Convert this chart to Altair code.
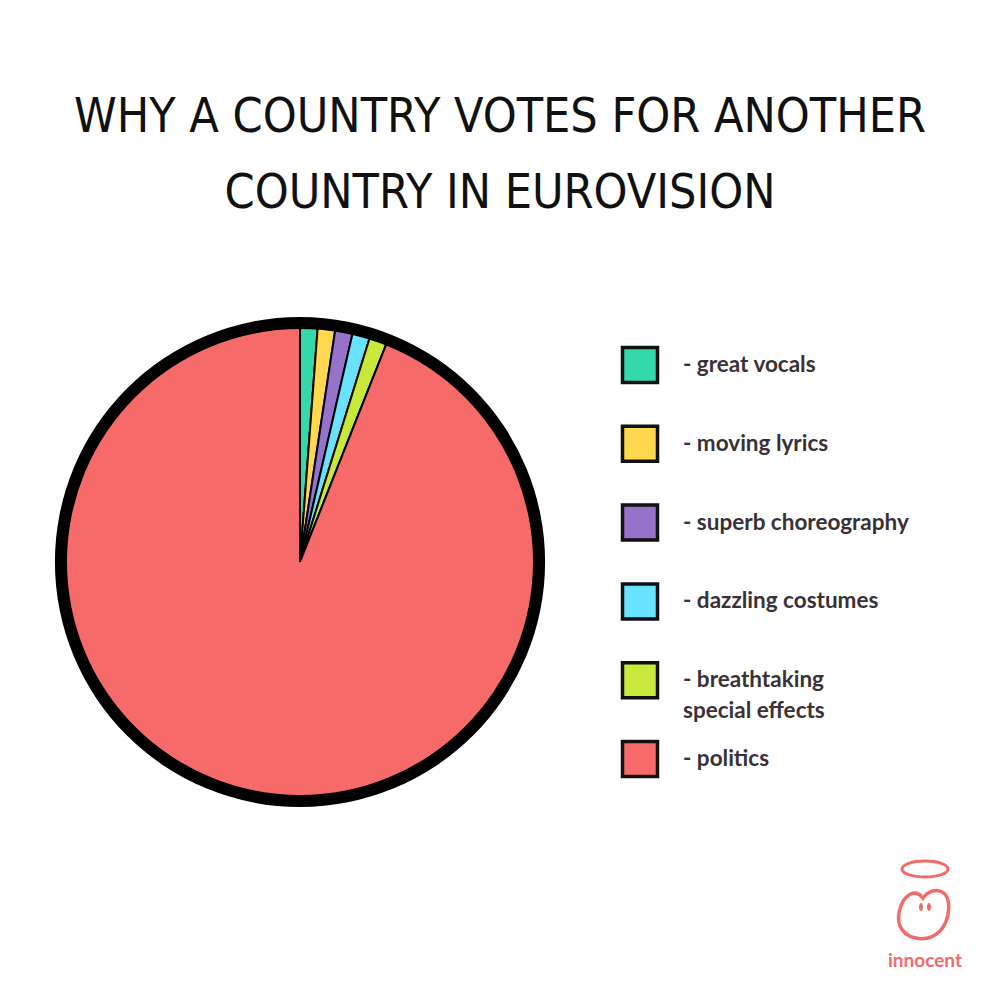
import altair as alt
import pandas as pd

# ---------------- data ----------------
categories = ["great vocals", "moving lyrics", "superb choreography",
              "dazzling costumes", "breathtaking special effects", "politics"]
legend_labels = ["- great vocals", "- moving lyrics", "- superb choreography",
                 "- dazzling costumes", "- breathtaking\n\u2002special effects", "- politics"]
shares = [1.2, 1.2, 1.2, 1.2, 1.2, 94.0]
colors = ["#35D8A8", "#FFD84E", "#9673CB", "#68E2FF", "#C8E83C", "#F76A6A"]
title_lines = ["WHY A COUNTRY VOTES FOR ANOTHER", "COUNTRY IN EUROVISION"]
brand = "innocent"

df = pd.DataFrame({"category": categories, "label": legend_labels,
                   "share": shares, "order": list(range(len(categories)))})
one = pd.DataFrame({"title": ["\n".join(title_lines)], "brand": [brand]})

W = H = 984
CX, CY = 292, 554
R_OUT = 245
RING = 12
LOGO_RED = "#F26B6B"


def ellipse_path(rx, ry):
    k = 0.5523
    return (f"M {rx} 0 C {rx} {k*ry} {k*rx} {ry} 0 {ry} "
            f"C {-k*rx} {ry} {-rx} {k*ry} {-rx} 0 "
            f"C {-rx} {-k*ry} {-k*rx} {-ry} 0 {-ry} "
            f"C {k*rx} {-ry} {rx} {-k*ry} {rx} 0 Z")


face_path = ("M 0 -0.55 C 0.3 -1 1 -0.95 0.95 -0.15 C 0.92 0.55 0.45 0.98 -0.1 0.95 "
             "C -0.7 0.92 -1 0.5 -0.88 -0.05 C -0.75 -0.65 -0.3 -0.95 0 -0.55 Z")

color = alt.Color("category:N", scale=alt.Scale(domain=categories, range=colors), legend=None)
base = alt.Chart(df)

pie = base.mark_arc(outerRadius=R_OUT - RING / 2, stroke="#000", strokeWidth=2).encode(
    theta=alt.Theta("share:Q", stack=True),
    order=alt.Order("order:Q"),
    color=color,
    x=alt.value(CX), y=alt.value(CY),
)

ring = alt.Chart(one).mark_arc(
    innerRadius=R_OUT - RING, outerRadius=R_OUT, theta=0, theta2=6.2832, color="#000"
).encode(x=alt.value(CX), y=alt.value(CY))

ys = alt.Y("order:Q", scale=alt.Scale(domain=[0, 5], range=[357, 751]), axis=None)

squares = base.mark_square(size=35 * 35, stroke="#111", strokeWidth=3.5, opacity=1).encode(
    x=alt.value(632), y=ys,
    fill=alt.Fill("category:N", scale=alt.Scale(domain=categories, range=colors), legend=None),
)

labels = base.mark_text(
    align="left", baseline="alphabetic", dy=7, fontSize=22.5, font="Lato",
    fontWeight="bold", color="#3a3137", lineBreak="\n", lineHeight=31,
).encode(x=alt.value(675), y=ys, text="label:N")

title = alt.Chart(one).mark_text(
    align="center", baseline="alphabetic", fontSize=48,
    font="DejaVu Sans Condensed, sans-serif",
    color="#111", lineBreak="\n", lineHeight=76,
).encode(x=alt.value(492), y=alt.value(124), text="title:N")

brand_text = alt.Chart(one).mark_text(
    align="center", baseline="alphabetic", fontSize=19, font="Lato",
    fontWeight="bold", color=LOGO_RED,
).encode(x=alt.value(917), y=alt.value(959), text="brand:N")

halo = alt.Chart(one).mark_point(
    shape=ellipse_path(1, 0.35), size=46 * 46, stroke=LOGO_RED, strokeWidth=3,
    filled=False, opacity=1,
).encode(x=alt.value(917), y=alt.value(861))

face = alt.Chart(one).mark_point(
    shape=face_path, size=54 * 54, stroke=LOGO_RED, strokeWidth=3.5,
    filled=False, opacity=1,
).encode(x=alt.value(915), y=alt.value(905))

# eyes positioned through a pixel-identity scale
eyes = alt.Chart(pd.DataFrame({"ex": [913, 921]})).mark_point(
    shape=ellipse_path(0.5, 1), size=64, color=LOGO_RED, filled=True, opacity=1,
).encode(x=alt.X("ex:Q", scale=alt.Scale(domain=[0, W], range=[0, W]), axis=None),
         y=alt.value(899))

chart = alt.layer(pie, ring, squares, labels, title, halo, face, eyes, brand_text).properties(
    width=W, height=H, padding=0, autosize=alt.AutoSizeParams(type="none"),
).configure_view(stroke=None).resolve_scale(color="independent")

chart.save("out.html", embed_options={"renderer": "svg", "actions": False})
